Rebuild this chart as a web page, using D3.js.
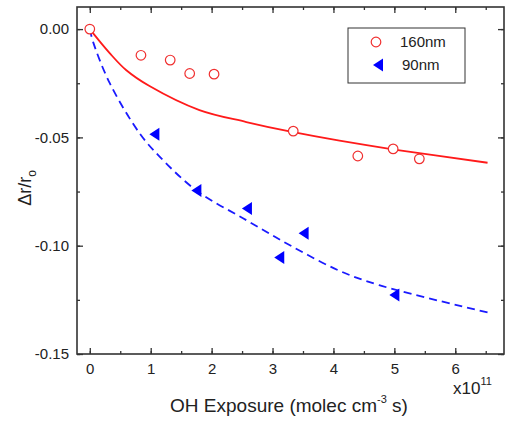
<!DOCTYPE html>
<html>
<head>
<meta charset="utf-8">
<script src="https://cdn.jsdelivr.net/npm/d3@7"></script>
<style>
  body { margin: 0; background: #fff; }
  text { font-family: "Liberation Sans", Arial, sans-serif; fill: #222; }
</style>
</head>
<body>
<div id="container"></div>
<script>
var width = 507;
var height = 421;

// data (exposure in units of 1e11 molec cm^-3 s)
var x160 = [0, 0.84, 1.32, 1.64, 2.04, 3.34, 4.40, 4.98, 5.41];
var y160 = [0, -0.0121, -0.0143, -0.0205, -0.0208, -0.0471, -0.0586, -0.0553, -0.0599];
var x90 = [1.06, 1.75, 2.58, 3.11, 3.51, 5.0];
var y90 = [-0.0485, -0.0745, -0.0828, -0.1054, -0.0943, -0.1228];

// fit curves
var fit160x = [0, 0.33, 0.60, 0.98, 1.80, 2.57, 3.34, 4.10, 5.0, 6.53];
var fit160y = [0, -0.0112, -0.0190, -0.0263, -0.0374, -0.0429, -0.0476, -0.0515, -0.0556, -0.0617];
var fit90x = [0, 0.054, 0.33, 0.82, 1.15, 1.75, 2.57, 3.33, 4.10, 4.75, 6.53];
var fit90y = [0, -0.0059, -0.0251, -0.0482, -0.0590, -0.0745, -0.0882, -0.1005, -0.1116, -0.1182, -0.1308];

var xTicks = [0, 1, 2, 3, 4, 5, 6];
var yTicks = [0, -0.05, -0.10, -0.15];

var margin = { left: 77, right: 3, top: 7, bottom: 67 };

var svg = d3
  .select("div#container")
  .append("svg")
  .attr("width", width)
  .attr("height", height);

var x = d3.scaleLinear().domain([-0.21, 6.8]).range([margin.left, width - margin.right]);
var y = d3.scaleLinear().domain([-0.15, 0.0102]).range([height - margin.bottom, margin.top]);

var x0 = margin.left, x1 = width - margin.right;
var y0 = margin.top, y1 = height - margin.bottom;

// axes with inward ticks
var xMinor = d3.range(0, 7, 0.5);
var yMinor = d3.range(-0.15, 0.001, 0.025);
var yFmt = d => d3.format(".2f")(d).replace("\u2212", "-");

svg.append("g")
  .attr("transform", `translate(0,${y1})`)
  .call(d3.axisTop(x).tickValues(xMinor).tickSize(3).tickFormat(""));
svg.append("g")
  .attr("transform", `translate(0,${y1})`)
  .call(d3.axisTop(x).tickValues(xTicks).tickSize(6).tickFormat(""));
svg.append("g")
  .attr("transform", `translate(0,${y1})`)
  .call(d3.axisBottom(x).tickValues(xTicks).tickSize(0).tickPadding(9).tickFormat(d3.format("d")));
svg.append("g")
  .attr("transform", `translate(0,${y0})`)
  .call(d3.axisBottom(x).tickValues(xMinor).tickSize(3).tickFormat(""));
svg.append("g")
  .attr("transform", `translate(0,${y0})`)
  .call(d3.axisBottom(x).tickValues(xTicks).tickSize(6).tickFormat(""));

svg.append("g")
  .attr("transform", `translate(${x0},0)`)
  .call(d3.axisRight(y).tickValues(yMinor).tickSize(3).tickFormat(""));
svg.append("g")
  .attr("transform", `translate(${x0},0)`)
  .call(d3.axisRight(y).tickValues(yTicks).tickSize(6).tickFormat(""));
svg.append("g")
  .attr("transform", `translate(${x0},0)`)
  .call(d3.axisLeft(y).tickValues(yTicks).tickSize(0).tickPadding(8).tickFormat(yFmt));
svg.append("g")
  .attr("transform", `translate(${x1},0)`)
  .call(d3.axisLeft(y).tickValues(yMinor).tickSize(3).tickFormat(""));
svg.append("g")
  .attr("transform", `translate(${x1},0)`)
  .call(d3.axisLeft(y).tickValues(yTicks).tickSize(6).tickFormat(""));

svg.selectAll(".domain").remove();
svg.selectAll(".tick line").attr("stroke", "#333").attr("stroke-width", 1.3);
svg.selectAll(".tick text").attr("font-size", 15).attr("fill", "#222")
  .style("font-family", "Liberation Sans, Arial, sans-serif");

svg.append("rect")
  .attr("x", x0).attr("y", y0)
  .attr("width", x1 - x0).attr("height", y1 - y0)
  .attr("fill", "none").attr("stroke", "#333").attr("stroke-width", 1.6);

// fit lines
var line = d3.line().x(d => x(d[0])).y(d => y(d[1])).curve(d3.curveCatmullRom.alpha(0.5));

svg.append("path")
  .attr("d", line(d3.zip(fit160x, fit160y)))
  .attr("fill", "none").attr("stroke", "#ff1a1a").attr("stroke-width", 1.8);

svg.append("path")
  .attr("d", line(d3.zip(fit90x, fit90y)))
  .attr("fill", "none").attr("stroke", "#1a1aff").attr("stroke-width", 1.8)
  .attr("stroke-dasharray", "8,5");

// markers
svg.append("g")
  .selectAll("circle")
  .data(d3.zip(x160, y160))
  .enter()
  .append("circle")
  .attr("cx", d => x(d[0]))
  .attr("cy", d => y(d[1]))
  .attr("r", 4.8)
  .attr("fill", "white")
  .attr("stroke", "#f03030")
  .attr("stroke-width", 1.2);

var tri = "M -5,0 L 5,-6.5 L 5,6.5 Z";
svg.append("g")
  .selectAll("path")
  .data(d3.zip(x90, y90))
  .enter()
  .append("path")
  .attr("transform", d => `translate(${x(d[0])},${y(d[1])})`)
  .attr("d", tri)
  .attr("fill", "#0000ff");

// legend
var lg = svg.append("g");
lg.append("rect")
  .attr("x", 348).attr("y", 28).attr("width", 117).attr("height", 55)
  .attr("fill", "white").attr("stroke", "#333").attr("stroke-width", 1);
lg.append("circle")
  .attr("cx", 376).attr("cy", 42).attr("r", 4.8)
  .attr("fill", "white").attr("stroke", "#f03030").attr("stroke-width", 1.2);
lg.append("text").attr("x", 400).attr("y", 47).attr("font-size", 15).text("160nm");
lg.append("path")
  .attr("transform", "translate(378,65)")
  .attr("d", tri).attr("fill", "#0000ff");
lg.append("text").attr("x", 402).attr("y", 70).attr("font-size", 15).text("90nm");

// axis labels
var xl = svg.append("text")
  .attr("x", 289).attr("y", 412)
  .attr("text-anchor", "middle")
  .attr("font-size", 19);
xl.append("tspan").text("OH Exposure (molec cm");
xl.append("tspan").attr("font-size", 11).attr("dy", -9).text("-3");
xl.append("tspan").attr("dy", 9).text(" s)");

var ex = svg.append("text")
  .attr("x", 453).attr("y", 394)
  .attr("font-size", 17);
ex.append("tspan").text("x10");
ex.append("tspan").attr("font-size", 11).attr("dy", -9).text("11");

var yl = svg.append("text")
  .attr("transform", "translate(31,188) rotate(-90)")
  .attr("text-anchor", "middle")
  .attr("font-size", 18);
yl.append("tspan").text("Δr/r");
yl.append("tspan").attr("font-size", 12).attr("dy", 5).text("o");
</script>
</body>
</html>
